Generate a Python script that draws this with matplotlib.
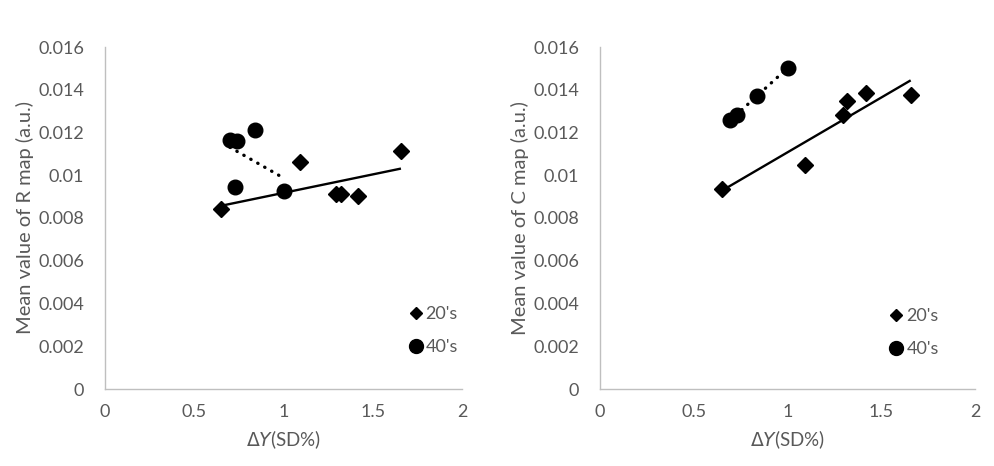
import numpy as np
import matplotlib
matplotlib.use("Agg")
import matplotlib.pyplot as plt
from matplotlib.lines import Line2D

plt.rcParams['font.family'] = ['Lato', 'DejaVu Sans']

# Data: R map (left)
r20_x = [0.65, 1.092, 1.294, 1.322, 1.418, 1.658]
r20_y = [0.00844, 0.01064, 0.00914, 0.00914, 0.00902, 0.01115]
r40_x = [0.70, 0.741, 0.84, 0.730, 1.005]
r40_y = [0.01166, 0.01158, 0.01211, 0.00944, 0.00928]

# Data: C map (right)
c20_x = [0.649, 1.093, 1.298, 1.319, 1.419, 1.657]
c20_y = [0.00938, 0.0105, 0.0128, 0.01347, 0.01387, 0.01377]
c40_x = [0.693, 0.729, 0.836, 1.001]
c40_y = [0.01260, 0.0128, 0.01369, 0.01503]

x_ticks = [0, 0.5, 1, 1.5, 2]
x_tick_labels = ['0', '0.5', '1', '1.5', '2']
y_ticks = [0, 0.002, 0.004, 0.006, 0.008, 0.01, 0.012, 0.014, 0.016]
y_tick_labels = ['0', '0.002', '0.004', '0.006', '0.008', '0.01', '0.012', '0.014', '0.016']
series_labels = ["20's", "40's"]

fig = plt.figure(figsize=(9.94, 4.66), dpi=100)
ax1 = fig.add_axes([105/994, 77/466, 357/994, 342/466])
ax2 = fig.add_axes([600/994, 77/466, 375/994, 342/466])

gray_txt = '#595959'
spine_c = '#bfbfbf'

def trend(ax, x, y, ls):
    x = np.asarray(x); y = np.asarray(y)
    k, b = np.polyfit(x, y, 1)
    xs = np.array([x.min(), x.max()])
    if ls == 'solid':
        ax.plot(xs, k*xs + b, color='black', lw=1.7, solid_capstyle='butt', zorder=2)
    else:
        ax.plot(xs, k*xs + b, color='black', lw=2.4, linestyle=(0, (0.1, 2.3)),
                dash_capstyle='round', zorder=2)

def panel(ax, x20, y20, x40, y40, ylabel, legx):
    trend(ax, x20, y20, 'solid')
    trend(ax, x40, y40, 'dotted')
    ax.plot(x20, y20, linestyle='none', marker='D', ms=8, color='black', zorder=3)
    ax.plot(x40, y40, linestyle='none', marker='o', ms=10.5, color='black', zorder=3)
    ax.set_xlim(0, 2)
    ax.set_ylim(0, 0.016)
    ax.set_xticks(x_ticks)
    ax.set_xticklabels(x_tick_labels)
    ax.set_yticks(y_ticks)
    ax.set_yticklabels(y_tick_labels)
    ax.tick_params(length=0, labelsize=13, colors=gray_txt)
    ax.tick_params(axis='y', pad=15)
    ax.tick_params(axis='x', pad=11)
    for s in ['top', 'right']:
        ax.spines[s].set_visible(False)
    for s in ['left', 'bottom']:
        ax.spines[s].set_color(spine_c)
        ax.spines[s].set_linewidth(1.0)
    ax.set_ylabel(ylabel, fontsize=14.5, color=gray_txt, labelpad=3)
    ax.set_xlabel(r'$\mathit{\Delta Y}$(SD%)', fontsize=13.5, color=gray_txt, labelpad=6)
    handles = [Line2D([], [], linestyle='none', marker='D', ms=6.5, color='black'),
               Line2D([], [], linestyle='none', marker='o', ms=10, color='black')]
    ax.legend(handles, series_labels, loc='center left', bbox_to_anchor=legx,
              frameon=False, handlelength=0.5, handletextpad=0.3, labelspacing=0.95,
              fontsize=13, labelcolor=gray_txt)

panel(ax1, r20_x, r20_y, r40_x, r40_y, 'Mean value of R map (a.u.)', (0.812, 0.17))
panel(ax2, c20_x, c20_y, c40_x, c40_y, 'Mean value of C map (a.u.)', (0.735, 0.165))

fig.savefig('out.png', dpi=100)
